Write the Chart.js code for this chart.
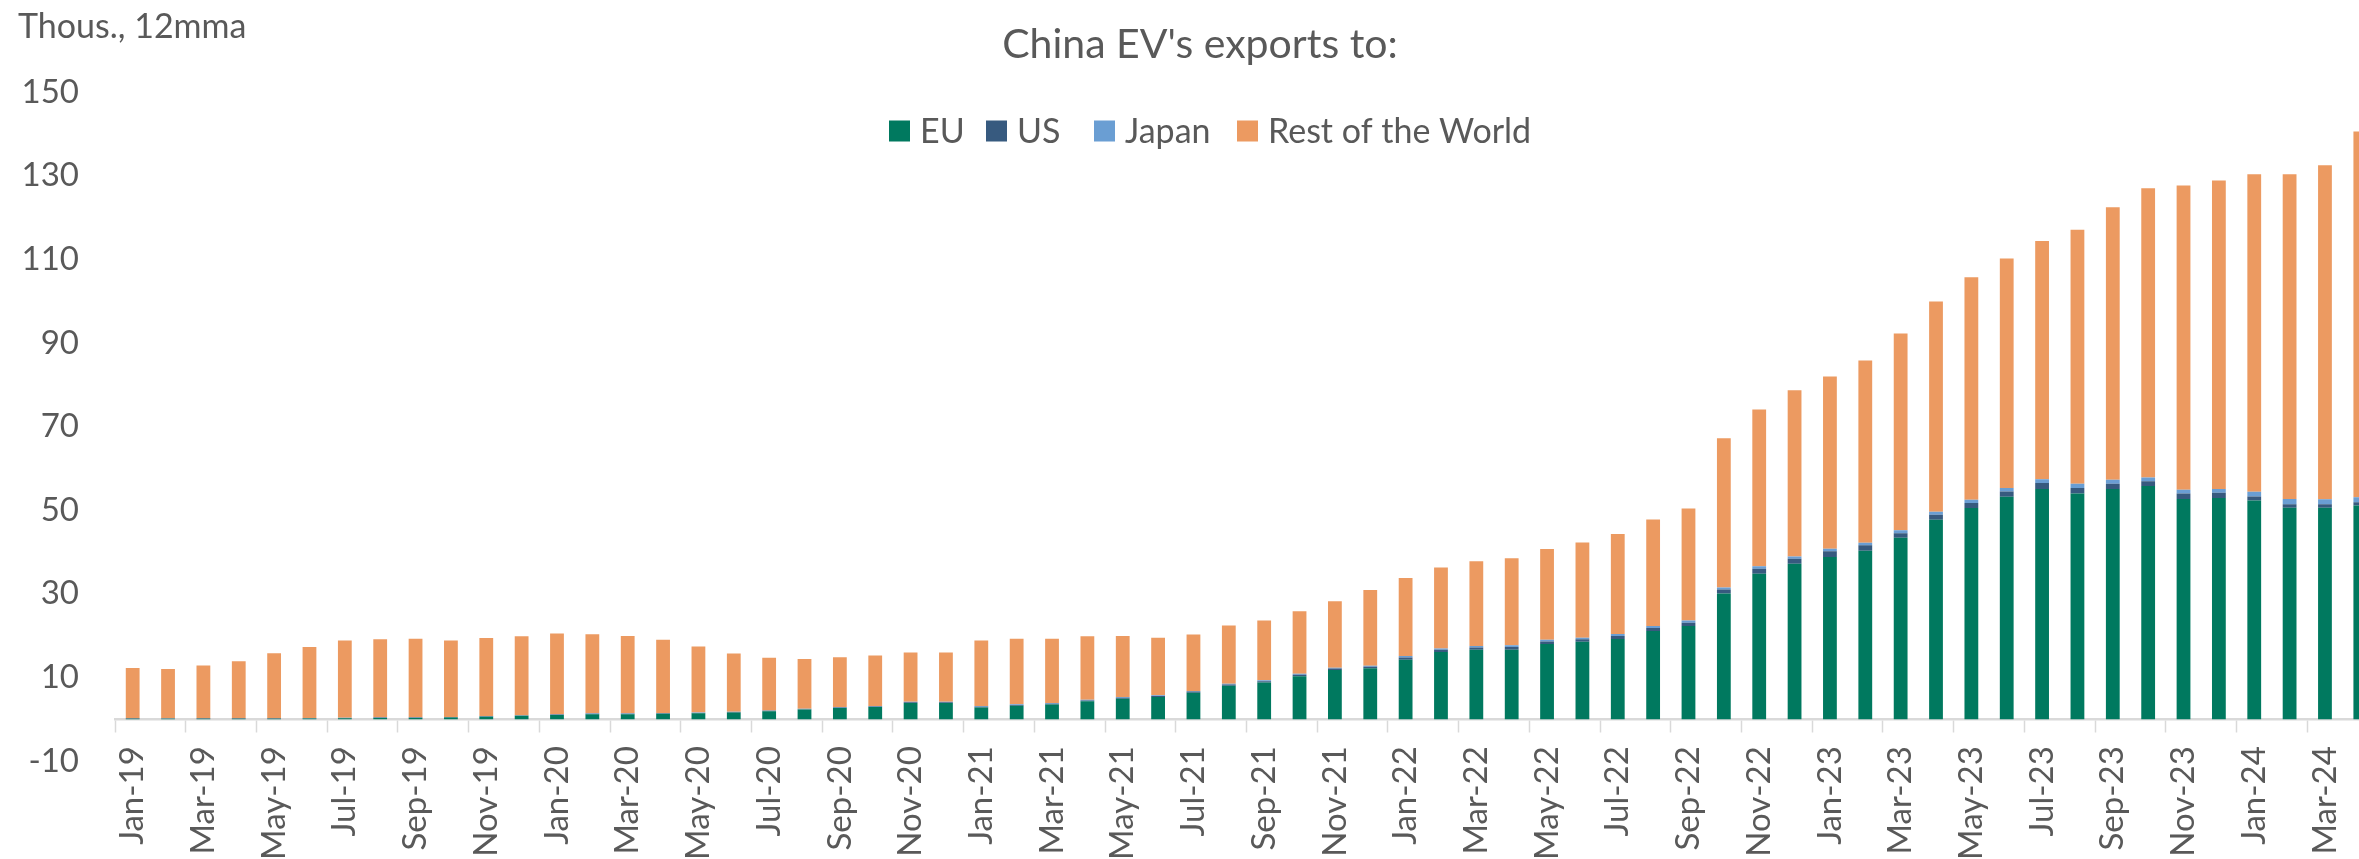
<!DOCTYPE html>
<html>
<head>
<meta charset="utf-8">
<script src="https://cdn.jsdelivr.net/npm/chart.js@4.4.1/dist/chart.umd.min.js"></script>
<style>
  html, body { margin: 0; padding: 0; overflow: hidden; background: #ffffff; }
  #wrap { width: 2420px; height: 859px; position: relative; }
</style>
</head>
<body>
<div id="wrap"><canvas id="c"></canvas></div>
<script>
// ---- Data (thousand units, 12-month moving average) ----
const months = [
  'Jan-19','Feb-19','Mar-19','Apr-19','May-19','Jun-19','Jul-19','Aug-19','Sep-19','Oct-19','Nov-19','Dec-19',
  'Jan-20','Feb-20','Mar-20','Apr-20','May-20','Jun-20','Jul-20','Aug-20','Sep-20','Oct-20','Nov-20','Dec-20',
  'Jan-21','Feb-21','Mar-21','Apr-21','May-21','Jun-21','Jul-21','Aug-21','Sep-21','Oct-21','Nov-21','Dec-21',
  'Jan-22','Feb-22','Mar-22','Apr-22','May-22','Jun-22','Jul-22','Aug-22','Sep-22','Oct-22','Nov-22','Dec-22',
  'Jan-23','Feb-23','Mar-23','Apr-23','May-23','Jun-23','Jul-23','Aug-23','Sep-23','Oct-23','Nov-23','Dec-23',
  'Jan-24','Feb-24','Mar-24','Apr-24'
];
const euValues = [
  0.1,0.1,0.1,0.1,0.1,0.15,0.2,0.3,0.3,0.4,0.6,0.8,
  1.0,1.2,1.2,1.3,1.4,1.6,1.9,2.3,2.7,2.9,3.9,3.9,
  2.8,3.2,3.5,4.3,4.9,5.3,6.3,8.0,8.8,10.3,11.8,12.2,
  14.2,16.1,16.6,16.6,18.0,18.5,19.2,21.1,22.3,30.1,34.8,37.2,
  38.8,40.3,43.4,47.7,50.5,53.2,55.1,54.0,55.1,55.8,52.7,52.9,
  52.3,50.6,50.6,51.1
];
const usValues = [
  0.1,0.05,0.1,0.1,0.1,0.1,0.1,0.1,0.1,0.1,0.1,0.1,
  0.1,0.1,0.1,0.1,0.1,0.1,0.1,0.1,0.1,0.15,0.15,0.15,
  0.2,0.2,0.2,0.2,0.25,0.25,0.3,0.3,0.3,0.35,0.3,0.35,
  0.55,0.5,0.55,0.7,0.6,0.6,0.7,0.7,0.8,0.9,1.2,1.2,
  1.4,1.3,1.1,1.2,1.2,1.3,1.4,1.3,1.2,1.1,1.3,1.3,
  1.0,0.8,0.8,0.8
];
const japanValues = [
  0.05,0.05,0.05,0.05,0.05,0.05,0.05,0.05,0.05,0.05,0.05,0.05,
  0.1,0.1,0.1,0.1,0.1,0.1,0.1,0.1,0.1,0.1,0.1,0.1,
  0.15,0.15,0.15,0.15,0.15,0.15,0.15,0.2,0.2,0.25,0.2,0.25,
  0.35,0.3,0.35,0.4,0.4,0.4,0.5,0.5,0.5,0.5,0.6,0.5,
  0.6,0.6,0.7,0.7,0.8,0.8,0.9,1.0,1.0,0.9,0.9,0.9,
  1.1,1.3,1.2,1.2
];
const restValues = [
  12.0,11.8,12.6,13.6,15.5,17.0,18.5,18.7,18.8,18.3,18.7,18.9,
  19.3,18.9,18.5,17.5,15.8,13.9,12.6,11.9,11.9,12.1,11.8,11.8,
  15.7,15.7,15.4,15.2,14.6,13.8,13.5,13.9,14.3,14.9,15.9,18.1,
  18.7,19.4,20.3,20.8,21.7,22.8,23.9,25.5,26.8,35.7,37.5,39.8,
  41.2,43.6,47.1,50.3,53.2,54.9,57.0,60.8,65.2,69.2,72.8,73.8,
  76.0,77.7,79.9,87.5
];
const seriesNames = ['EU', 'US', 'Japan', 'Rest of the World'];
const seriesColors = ['#00795F', '#375A7F', '#6A9ED3', '#EC9A61'];
const yTicks = [-10, 10, 30, 50, 70, 90, 110, 130, 150];

const TEXT = '#595959';
const FONT = 'Lato, "Open Sans", sans-serif';

const overlayText = {
  id: 'overlayText',
  afterDraw(chart) {
    const ctx = chart.ctx;
    ctx.save();
    // unit label
    ctx.fillStyle = TEXT;
    ctx.font = '34px ' + FONT;
    ctx.textAlign = 'left';
    ctx.textBaseline = 'middle';
    ctx.fillText('Thous., 12mma', 18, 27);
    // legend
    ctx.font = '34px ' + FONT;
    const box = 21, gapText = 10;
    const boxX = [889, 986, 1094, 1237];
    const yc = 131;
    chart.data.datasets.forEach((d, i) => {
      const x = boxX[i];
      ctx.fillStyle = d.backgroundColor;
      ctx.fillRect(x, yc - box / 2, box, box);
      ctx.fillStyle = TEXT;
      ctx.fillText(d.label, x + box + gapText, yc + 1);
    });
    ctx.restore();
  }
};

const valueSets = [euValues, usValues, japanValues, restValues];

new Chart(document.getElementById('c'), {
  type: 'bar',
  data: {
    labels: months,
    datasets: seriesNames.map((name, i) => ({
      label: name,
      data: valueSets[i],
      backgroundColor: seriesColors[i],
      borderWidth: 0,
      categoryPercentage: 1.0,
      barPercentage: 0.39
    }))
  },
  options: {
    responsive: true,
    maintainAspectRatio: false,
    animation: false,
    layout: { padding: { left: 22, right: 42, top: 0, bottom: 98 } },
    plugins: {
      legend: { display: false },
      tooltip: { enabled: false },
      title: {
        display: true,
        text: "China EV's exports to:",
        color: TEXT,
        font: { family: FONT, size: 41, weight: 'normal', lineHeight: 1.2 },
        padding: { top: 20, bottom: 23 }
      }
    },
    scales: {
      x: {
        stacked: true,
        position: { y: 0 },
        offset: true,
        grid: {
          offset: true,
          drawOnChartArea: false,
          drawTicks: true,
          tickLength: 12,
          tickWidth: 1.5,
          tickColor: (c) => (c.index % 2 === 0 ? '#D9D9D9' : 'rgba(0,0,0,0)')
        },
        border: { display: true, color: '#D9D9D9', width: 2.5 },
        ticks: {
          autoSkip: false,
          minRotation: 90,
          maxRotation: 90,
          padding: 15,
          color: TEXT,
          font: { family: FONT, size: 33 },
          callback: function (val, idx) { return idx % 2 === 0 ? months[idx] : ''; }
        }
      },
      y: {
        stacked: true,
        min: yTicks[0],
        max: yTicks[yTicks.length - 1],
        afterFit: (scale) => { scale.width = 93; },
        grid: { display: false, drawTicks: false },
        border: { display: false },
        afterBuildTicks: (scale) => { scale.ticks = yTicks.map(v => ({ value: v })); },
        ticks: {
          padding: 36,
          color: TEXT,
          font: { family: FONT, size: 33 }
        }
      }
    }
  },
  plugins: [overlayText]
});
</script>
</body>
</html>
